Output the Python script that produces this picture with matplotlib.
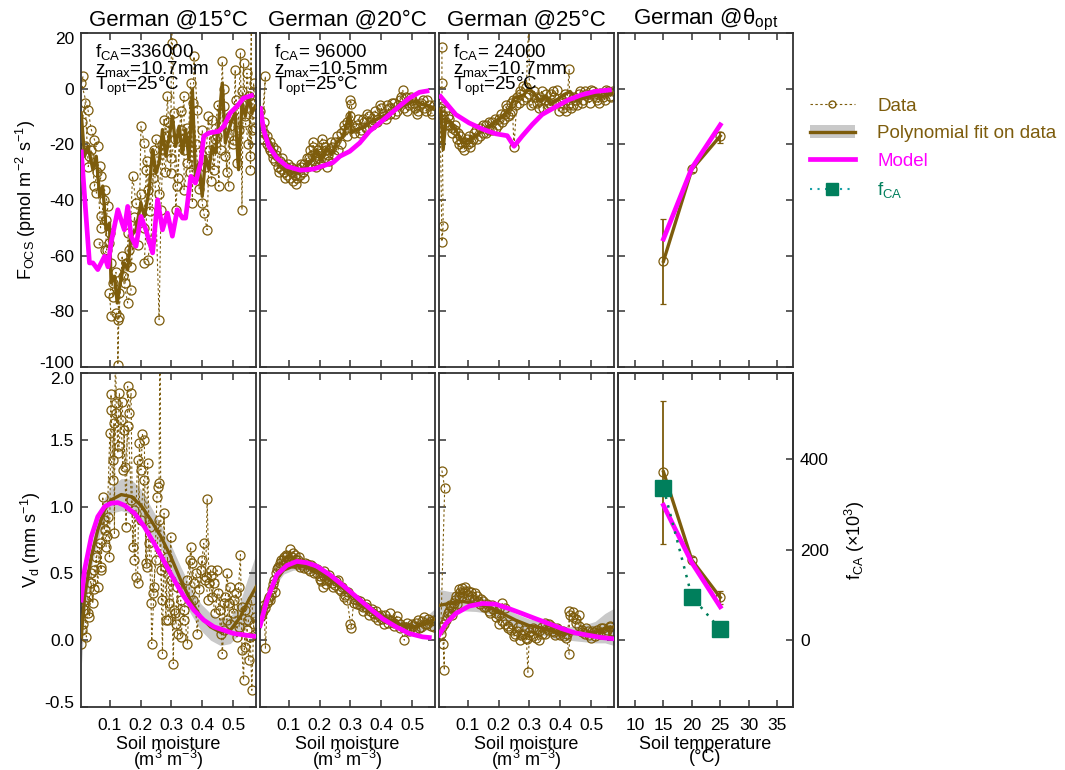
import matplotlib
matplotlib.use("Agg")
import matplotlib.pyplot as plt
import numpy as np
from matplotlib.lines import Line2D
from matplotlib.patches import Patch
from matplotlib.transforms import ScaledTranslation

plt.rcParams["font.family"] = ["Liberation Sans", "DejaVu Sans"]
plt.rcParams["mathtext.fontset"] = "custom"
plt.rcParams["mathtext.rm"] = "Liberation Sans"
plt.rcParams["mathtext.it"] = "Liberation Sans"
plt.rcParams["mathtext.bf"] = "Liberation Sans:bold"
plt.rcParams["axes.unicode_minus"] = False

BROWN = "#7d5c0c"
GREY = "#c9c9c9"
MAGENTA = "#ff00ff"
GREEN = "#007f5c"
TEAL = "#1aa0a6"
FRAME = "#333333"

TITLES = ["German @15°C", "German @20°C", "German @25°C", "German @θ$_{opt}$"]
PARAM_TEXT = [
    "f$_{CA}$=336000\nz$_{max}$=10.7mm\nT$_{opt}$=25°C",
    "f$_{CA}$= 96000\nz$_{max}$=10.5mm\nT$_{opt}$=25°C",
    "f$_{CA}$= 24000\nz$_{max}$=10.7mm\nT$_{opt}$=25°C",
]

# ---- F_OCS @15°C (two measurement runs) ----
FOCS15_SM = [0.013, 0.008, 0.029, 0.040, 0.050, 0.061, 0.018, 0.034, 0.067, 0.072, 0.056, 0.083,
             0.094, 0.088, 0.072, 0.099, 0.061, 0.083, 0.104, 0.110, 0.099, 0.104, 0.121, 0.126,
             0.126, 0.131, 0.142, 0.158, 0.169, 0.153, 0.163, 0.174, 0.185, 0.196, 0.201, 0.212,
             0.217, 0.223, 0.212, 0.223, 0.234, 0.244, 0.260, 0.266, 0.276, 0.282, 0.287, 0.298,
             0.300, 0.303, 0.309, 0.314, 0.319, 0.330, 0.341, 0.341, 0.352, 0.362, 0.368, 0.373,
             0.384, 0.400, 0.405, 0.416, 0.422, 0.432, 0.438, 0.448, 0.454, 0.465, 0.470, 0.475,
             0.486, 0.491, 0.502, 0.507, 0.513, 0.524, 0.529, 0.534, 0.540, 0.545, 0.551, 0.556,
             0.560, 0.556, 0.561, 0.567, 0.572]
FOCS15 = [4.4, 2.0, -7.5, -14.7, -18.3, -20.7, -20.7, -24.3, -27.9, -31.5, -37.5, -36.3,
          -42.3, -47.1, -45.9, -55.4, -55.4, -57.8, -62.6, -69.8, -73.4, -81.8, -80.6, -83.0,
          -99.2, -73.4, -67.4, -77.0, -72.2, -62.6, -57.8, -31.5, -41.0, -48.3, -13.5, -19.5,
          -29.1, -36.3, -62.6, -61.4, -54.2, -21.9, -83.0, -43.5, -11.1, -17.1, -2.8, -30.3,
          25.0, 16.4, -8.7, -43.5, -35.1, -14.7, -2.8, -36.3, -26.7, 2.0, -41.0, 11.6,
          -7.5, -41.0, -44.7, -50.7, -21.9, -11.1, -29.1, -17.1, -35.1, 9.8, -6.3, -24.3,
          -35.1, -13.5, -18.3, 6.8, -26.7, 12.8, -43.5, 9.2, -9.9, 5.6, -2.8, -24.3,
          30.0, -29.1, -14.7, 2.0, -8.7]
FOCS15_SM_B = [0.01, 0.02, 0.03, 0.04, 0.05, 0.06, 0.07, 0.08, 0.09, 0.10, 0.11, 0.12,
               0.13, 0.14, 0.15, 0.16, 0.17, 0.18, 0.19, 0.20, 0.21, 0.22, 0.23, 0.24,
               0.25, 0.26, 0.27, 0.28, 0.29, 0.30, 0.31, 0.32, 0.33, 0.34, 0.35, 0.36,
               0.37, 0.38, 0.39, 0.40, 0.41, 0.42, 0.43, 0.44, 0.45, 0.46, 0.47, 0.48,
               0.49, 0.50, 0.51, 0.52, 0.53, 0.54, 0.55, 0.56, 0.57]
FOCS15_B = [-12, -5, -28, -22, -35, -30, -50, -40, -58, -52, -75, -66,
            -82, -60, -70, -52, -64, -46, -56, -38, -50, -26, -44, -32,
            -18, -38, -20, -30, -12, -25, -18, -32, -8, -22, -14, -30,
            -5, -20, -36, -15, -28, -10, -33, -18, -6, -22, 0, -30,
            -10, -20, -4, -15, -1, -12, -20, -5, -14]
FOCS15_FIT_SM = [0.007, 0.018, 0.029, 0.045, 0.056, 0.067, 0.077, 0.088, 0.099, 0.104, 0.115, 0.124,
                 0.134, 0.147, 0.158, 0.169, 0.185, 0.201, 0.212, 0.228, 0.239, 0.250, 0.260, 0.271,
                 0.282, 0.293, 0.303, 0.314, 0.325, 0.336, 0.346, 0.357, 0.368, 0.378, 0.389, 0.400,
                 0.411, 0.422, 0.432, 0.443, 0.454, 0.465, 0.475, 0.486, 0.497, 0.507, 0.518, 0.529,
                 0.540, 0.551, 0.561, 0.572]
FOCS15_FIT = [-8.7, -24.3, -20.7, -29.0, -24.3, -38.7, -35.0, -50.7, -48.3, -69.8, -67.4, -77.0,
              -69.8, -62.6, -65.0, -53.0, -50.7, -41.0, -45.9, -36.3, -21.9, -30.3, -26.7, -14.7,
              -24.3, -17.1, -9.9, -20.7, -13.5, -23.1, -14.7, -25.5, -0.4, -31.5, -26.7, -38.7,
              -24.3, -29.1, -20.7, -23.1, -11.1, 2.0, -19.5, -14.7, -11.1, -8.7, -29.1, -5.1,
              -9.9, -2.8, -8.7, -6.3]
FOCS15_MODEL_SM = [0.007, 0.034, 0.045, 0.061, 0.083, 0.094, 0.104, 0.126, 0.147, 0.158, 0.169, 0.185,
                   0.201, 0.217, 0.239, 0.255, 0.271, 0.287, 0.303, 0.319, 0.336, 0.346, 0.363, 0.378,
                   0.395, 0.405, 0.422, 0.454, 0.470, 0.491, 0.513, 0.534, 0.567]
FOCS15_MODEL = [-21.9, -62.6, -62.6, -65.0, -60.2, -64.0, -55.4, -43.5, -50.7, -42.3, -53.0, -56.6,
                -45.9, -50.7, -59.0, -39.9, -50.7, -44.7, -53.0, -43.5, -46.5, -46.5, -31.5, -33.9,
                -26.7, -17.1, -15.9, -15.3, -13.5, -8.7, -6.3, -3.4, -2.2]

# ---- F_OCS @20°C ----
FOCS20_SM = [0.008, 0.012, 0.024, 0.015, 0.020, 0.030, 0.035, 0.040, 0.045, 0.050, 0.055, 0.060,
             0.065, 0.070, 0.075, 0.080, 0.085, 0.090, 0.095, 0.100, 0.105, 0.110, 0.115, 0.124,
             0.120, 0.130, 0.135, 0.140, 0.145, 0.150, 0.160, 0.165, 0.170, 0.175, 0.180, 0.185,
             0.190, 0.195, 0.200, 0.205, 0.210, 0.215, 0.220, 0.225, 0.230, 0.240, 0.250, 0.260,
             0.270, 0.280, 0.290, 0.300, 0.303, 0.310, 0.320, 0.330, 0.340, 0.350, 0.360, 0.370,
             0.380, 0.390, 0.400, 0.410, 0.420, 0.430, 0.440, 0.450, 0.460, 0.470, 0.475, 0.480,
             0.490, 0.500, 0.510, 0.520, 0.530, 0.540, 0.550, 0.560, 0.570]
FOCS20 = [-8.0, -14.0, 4.4, -18.0, -16.0, -17.0, -21.0, -19.0, -23.0, -21.0, -26.0, -24.0,
          -28.0, -26.0, -29.0, -27.0, -30.0, -28.0, -31.0, -29.0, -32.0, -30.0, -33.0, -34.1,
          -31.0, -29.0, -31.0, -28.0, -30.0, -27.0, -28.0, -25.0, -22.0, -24.0, -21.0, -26.0,
          -24.0, -22.0, -27.0, -23.0, -20.0, -25.0, -22.0, -28.0, -26.0, -21.0, -19.0, -22.0,
          -16.0, -13.0, -12.0, -4.0, -5.5, -16.0, -13.0, -16.0, -11.0, -14.0, -10.0, -13.0,
          -8.0, -11.0, -7.0, -10.0, -6.0, -9.0, -5.0, -8.0, -4.0, -0.4, -7.0, -3.0,
          -6.0, -4.0, -7.0, -8.0, -5.0, -7.0, -4.0, -8.0, -6.0]
FOCS20_SM_B = [0.018, 0.028, 0.038, 0.048, 0.058, 0.068, 0.078, 0.088, 0.098, 0.108, 0.118, 0.128,
               0.138, 0.148, 0.158, 0.168, 0.178, 0.188, 0.198, 0.208, 0.218, 0.228, 0.238, 0.248,
               0.258, 0.268, 0.278, 0.288, 0.298, 0.315, 0.325, 0.335, 0.345, 0.355, 0.365, 0.375,
               0.385, 0.395, 0.405, 0.415, 0.425, 0.435, 0.445, 0.455, 0.465, 0.485, 0.495, 0.505,
               0.515, 0.525, 0.535, 0.545, 0.555, 0.565]
FOCS20_B = [-12, -20, -22, -25, -22, -30, -25, -32, -27, -28, -29, -32,
            -27, -32, -25, -27, -19, -28, -25, -18, -21, -24, -19, -24,
            -17, -20, -15, -17, -10, -14, -11, -15, -12, -9, -12, -10,
            -12, -6, -9, -11, -7, -5, -9, -6, -3, -8, -3, -5,
            -9, -6, -4, -8, -6, -9]
FOCS20_FIT_SM = [0.007, 0.018, 0.040, 0.061, 0.083, 0.104, 0.126, 0.147, 0.169, 0.190, 0.206, 0.223,
                 0.239, 0.255, 0.276, 0.298, 0.303, 0.319, 0.341, 0.362, 0.384, 0.405, 0.427, 0.448,
                 0.470, 0.491, 0.513, 0.534, 0.556, 0.572]
FOCS20_FIT = [-12.3, -14.7, -19.5, -24.3, -27.9, -29.7, -30.3, -29.1, -26.7, -21.9, -25.5, -21.3,
              -23.7, -19.5, -17.1, -8.7, -15.9, -14.7, -14.1, -12.3, -11.1, -9.9, -8.7, -7.5,
              -6.3, -5.1, -4.5, -5.7, -6.3, -6.9]
FOCS20_MODEL_SM = [0.007, 0.018, 0.035, 0.061, 0.094, 0.137, 0.180, 0.223, 0.244, 0.266, 0.298, 0.330,
                   0.362, 0.395, 0.427, 0.459, 0.491, 0.524, 0.556]
FOCS20_MODEL = [-6.3, -14.7, -20.7, -24.9, -27.9, -29.3, -28.9, -27.3, -26.5, -24.3, -22.5, -19.5,
                -15.3, -12.3, -9.3, -6.3, -3.4, -1.3, -0.7]

# ---- F_OCS @25°C ----
FOCS25_SM = [0.016, 0.016, 0.020, 0.016, 0.010, 0.012, 0.020, 0.025, 0.030, 0.035, 0.040, 0.050,
             0.060, 0.065, 0.070, 0.075, 0.080, 0.090, 0.100, 0.105, 0.110, 0.120, 0.130, 0.140,
             0.150, 0.160, 0.170, 0.180, 0.190, 0.200, 0.210, 0.220, 0.225, 0.230, 0.240, 0.245,
             0.250, 0.260, 0.265, 0.270, 0.280, 0.290, 0.298, 0.300, 0.310, 0.320, 0.330, 0.340,
             0.350, 0.360, 0.370, 0.380, 0.390, 0.400, 0.410, 0.420, 0.429, 0.430, 0.440, 0.450,
             0.460, 0.470, 0.480, 0.490, 0.500, 0.510, 0.520, 0.530, 0.540, 0.550, 0.560, 0.570]
FOCS25 = [15.0, 2.0, -49.5, -55.0, -7.0, -5.0, -10.0, -8.0, -12.0, -10.0, -13.0, -14.0,
          -15.0, -18.0, -20.0, -17.0, -21.0, -19.0, -20.0, -17.0, -19.0, -16.0, -18.0, -14.0,
          -16.0, -13.0, -15.0, -12.0, -14.0, -11.0, -12.0, -9.0, -6.0, -10.0, -5.0, -8.0,
          -20.8, -3.0, -5.0, -1.0, -4.0, 0.5, 25.0, -2.0, -5.0, -3.0, -7.0, -1.0,
          -4.0, -6.0, -2.0, -3.0, -0.5, -5.0, -7.0, -8.0, 7.1, -3.0, -6.0, -4.0,
          -2.0, -5.0, -1.0, -3.0, -0.5, -2.0, -4.0, -1.5, -3.0, -0.5, -2.5, -1.0]
FOCS25_SM_B = [0.015, 0.028, 0.038, 0.048, 0.058, 0.068, 0.078, 0.088, 0.098, 0.108, 0.118, 0.128,
               0.138, 0.148, 0.158, 0.168, 0.178, 0.188, 0.198, 0.208, 0.218, 0.228, 0.238, 0.248,
               0.258, 0.268, 0.278, 0.288, 0.305, 0.315, 0.325, 0.335, 0.345, 0.355, 0.365, 0.375,
               0.385, 0.395, 0.405, 0.415, 0.425, 0.435, 0.445, 0.455, 0.465, 0.475, 0.485, 0.495,
               0.505, 0.515, 0.525, 0.535, 0.545, 0.555, 0.565]
FOCS25_B = [-9, -13, -11, -16, -13, -16, -19, -22, -18, -21, -18, -15,
            -17, -13, -16, -12, -15, -11, -13, -9, -11, -7, -9, -4,
            -6, -2, 1, -3, -6, -1, -5, -3, -7, -2, -5, -1,
            -5, -8, -4, -2, -6, -7, -3, -6, -1, -4, -2, -5,
            -1, -3, -5, -2, -4, -1, -3]
FOCS25_FIT_SM = [0.007, 0.013, 0.020, 0.029, 0.045, 0.061, 0.083, 0.104, 0.126, 0.147, 0.169, 0.190,
                 0.212, 0.234, 0.250, 0.266, 0.282, 0.298, 0.319, 0.336, 0.352, 0.368, 0.389, 0.411,
                 0.432, 0.454, 0.475, 0.497, 0.518, 0.540, 0.556, 0.572]
FOCS25_FIT = [-7.5, -8.7, -21.9, -11.1, -12.3, -14.7, -19.5, -18.3, -17.1, -14.7, -13.5, -11.7,
              -9.9, -7.5, -3.4, -2.8, -2.2, 0.2, -2.2, -4.6, -2.8, -5.7, -4.0, -2.2,
              -1.0, -4.0, -3.4, -2.8, -2.2, -2.8, -2.2, -1.6]
FOCS25_MODEL_SM = [0.007, 0.029, 0.061, 0.104, 0.147, 0.190, 0.228, 0.250, 0.276, 0.309, 0.341, 0.384,
                   0.427, 0.470, 0.513, 0.567]
FOCS25_MODEL = [-2.2, -5.1, -9.3, -12.3, -14.5, -16.2, -16.9, -20.7, -17.1, -12.9, -9.3, -6.6,
                -4.0, -2.2, -1.0, -0.4]

# ---- V_d @15°C ----
VD15_SM = [0.008, 0.013, 0.018, 0.024, 0.029, 0.034, 0.040, 0.045, 0.050, 0.056, 0.061, 0.067,
           0.072, 0.077, 0.083, 0.088, 0.094, 0.099, 0.104, 0.104, 0.110, 0.113, 0.115, 0.118,
           0.121, 0.126, 0.131, 0.137, 0.142, 0.147, 0.153, 0.158, 0.163, 0.169, 0.174, 0.180,
           0.185, 0.190, 0.196, 0.201, 0.206, 0.212, 0.217, 0.223, 0.228, 0.234, 0.236, 0.244,
           0.253, 0.257, 0.260, 0.263, 0.266, 0.271, 0.276, 0.282, 0.287, 0.293, 0.298, 0.306,
           0.309, 0.314, 0.319, 0.330, 0.341, 0.352, 0.362, 0.368, 0.373, 0.384, 0.395, 0.405,
           0.411, 0.416, 0.422, 0.427, 0.432, 0.438, 0.448, 0.459, 0.465, 0.470, 0.475, 0.481,
           0.486, 0.491, 0.502, 0.513, 0.518, 0.524, 0.529, 0.534, 0.540, 0.545, 0.551, 0.556,
           0.561, 0.567, 0.572]
VD15 = [-0.025, 0.125, 0.225, 0.025, 0.325, 0.175, 0.425, 0.275, 0.525, 0.625, 0.40, 0.725,
        0.525, 1.075, 0.825, 0.70, 0.925, 0.625, 1.84, 1.725, 1.35, 1.625, 0.80, 2.30,
        1.775, 1.40, 1.85, 1.65, 1.275, 1.575, 0.85, 1.90, 1.70, 1.85, 0.70, 0.975,
        0.475, 0.425, 1.475, 1.275, 1.54, 1.50, 0.575, 1.325, 0.725, 0.275, -0.025, 0.40,
        1.075, 1.15, 1.175, 2.50, 0.525, -0.10, 0.95, 0.15, 0.625, 0.275, 0.775, -0.175,
        0.225, 0.125, 0.40, 0.025, 0.225, -0.025, 0.70, 0.575, 0.425, 0.05, 0.525, 0.725,
        0.475, 1.06, 0.425, 0.525, 0.325, 0.425, 0.525, 0.225, -0.10, 0.075, 0.325, 0.50,
        0.275, 0.125, 0.30, 0.025, 0.40, 0.64, -0.075, -0.30, 0.225, 0.075, -0.15, 0.025,
        -0.375, 0.125, 0.175]
VD15_SM_B = [0.01, 0.02, 0.03, 0.04, 0.05, 0.06, 0.07, 0.08, 0.09, 0.10, 0.11, 0.12,
             0.13, 0.14, 0.15, 0.16, 0.17, 0.18, 0.19, 0.20, 0.21, 0.22, 0.23, 0.24,
             0.25, 0.26, 0.27, 0.28, 0.29, 0.30, 0.31, 0.32, 0.33, 0.34, 0.35, 0.36,
             0.37, 0.38, 0.39, 0.40, 0.41, 0.42, 0.43, 0.44, 0.45, 0.46, 0.47, 0.48,
             0.49, 0.50, 0.51, 0.52, 0.53, 0.54, 0.55, 0.56, 0.57]
VD15_B = [0.08, 0.30, 0.20, 0.50, 0.38, 0.70, 0.55, 0.90, 0.78, 1.55, 1.20, 1.70,
          1.45, 1.78, 1.30, 1.60, 1.05, 0.60, 1.35, 0.90, 1.20, 0.55, 0.85, 0.35,
          0.60, 0.90, 0.30, 0.55, 0.15, 0.45, 0.20, 0.05, 0.30, 0.15, 0.45, 0.60,
          0.30, 0.50, 0.38, 0.60, 0.45, 0.30, 0.48, 0.20, 0.35, 0.05, 0.28, 0.15,
          0.40, 0.20, 0.35, 0.10, 0.25, -0.05, 0.15, 0.30, 0.05]
VD15_FIT_SM = [0.007, 0.018, 0.040, 0.061, 0.083, 0.104, 0.137, 0.169, 0.201, 0.233, 0.266, 0.298,
               0.330, 0.362, 0.395, 0.427, 0.459, 0.491, 0.524, 0.545, 0.575]
VD15_FIT = [0.025, 0.325, 0.625, 0.825, 0.975, 1.05, 1.09, 1.075, 1.01, 0.90, 0.775, 0.625,
            0.45, 0.30, 0.175, 0.10, 0.06, 0.075, 0.175, 0.275, 0.40]
VD15_BAND = [0.24, 0.13, 0.08, 0.08, 0.09, 0.10, 0.12, 0.13, 0.12, 0.10, 0.09, 0.09,
             0.10, 0.10, 0.10, 0.10, 0.10, 0.10, 0.12, 0.17, 0.25]
VD15_MODEL_SM = [0.007, 0.018, 0.040, 0.061, 0.083, 0.104, 0.126, 0.147, 0.180, 0.212, 0.244, 0.276,
                 0.309, 0.341, 0.373, 0.405, 0.438, 0.470, 0.502, 0.534, 0.567]
VD15_MODEL = [0.30, 0.525, 0.775, 0.925, 1.00, 1.025, 1.03, 1.01, 0.95, 0.85, 0.725, 0.59,
              0.45, 0.325, 0.225, 0.15, 0.10, 0.075, 0.05, 0.04, 0.03]

# ---- V_d @20°C ----
VD20_SM = [0.010, 0.015, 0.020, 0.024, 0.030, 0.035, 0.040, 0.045, 0.050, 0.055, 0.060, 0.065,
           0.070, 0.075, 0.080, 0.085, 0.090, 0.095, 0.100, 0.105, 0.110, 0.115, 0.120, 0.125,
           0.130, 0.135, 0.140, 0.150, 0.160, 0.170, 0.180, 0.190, 0.200, 0.205, 0.210, 0.215,
           0.220, 0.230, 0.240, 0.250, 0.260, 0.270, 0.280, 0.290, 0.300, 0.303, 0.310, 0.320,
           0.330, 0.340, 0.350, 0.360, 0.370, 0.380, 0.390, 0.400, 0.410, 0.420, 0.430, 0.440,
           0.450, 0.460, 0.475, 0.480, 0.490, 0.500, 0.510, 0.520, 0.530, 0.540, 0.550, 0.560,
           0.570]
VD20 = [0.18, 0.22, 0.26, -0.06, 0.28, 0.32, 0.30, 0.38, 0.42, 0.36, 0.50, 0.55,
        0.58, 0.60, 0.56, 0.62, 0.59, 0.63, 0.60, 0.68, 0.62, 0.58, 0.64, 0.57,
        0.60, 0.55, 0.58, 0.54, 0.57, 0.52, 0.55, 0.50, 0.48, 0.44, 0.40, 0.52,
        0.45, 0.49, 0.43, 0.41, 0.45, 0.37, 0.32, 0.30, 0.12, 0.09, 0.28, 0.30,
        0.26, 0.22, 0.25, 0.19, 0.23, 0.17, 0.15, 0.19, 0.12, 0.16, 0.20, 0.13,
        0.18, 0.09, 0.00, 0.10, 0.07, 0.12, 0.08, 0.15, 0.10, 0.17, 0.12, 0.14,
        0.10]
VD20_SM_B = [0.012, 0.022, 0.032, 0.042, 0.052, 0.062, 0.072, 0.082, 0.092, 0.102, 0.112, 0.122,
             0.132, 0.142, 0.152, 0.162, 0.172, 0.182, 0.192, 0.202, 0.212, 0.222, 0.232, 0.242,
             0.252, 0.262, 0.272, 0.282, 0.292, 0.312, 0.322, 0.332, 0.342, 0.352, 0.362, 0.372,
             0.382, 0.392, 0.402, 0.412, 0.422, 0.432, 0.442, 0.452, 0.462, 0.472, 0.482, 0.492,
             0.502, 0.512, 0.522, 0.532, 0.542, 0.552, 0.562, 0.572]
VD20_B = [0.20, 0.24, 0.30, 0.34, 0.45, 0.53, 0.55, 0.60, 0.64, 0.61, 0.65, 0.60,
          0.62, 0.56, 0.58, 0.53, 0.56, 0.50, 0.53, 0.46, 0.49, 0.42, 0.46, 0.40,
          0.44, 0.38, 0.40, 0.34, 0.36, 0.31, 0.27, 0.29, 0.25, 0.27, 0.22, 0.20,
          0.22, 0.18, 0.16, 0.19, 0.13, 0.15, 0.11, 0.14, 0.12, 0.10, 0.13, 0.09,
          0.11, 0.13, 0.09, 0.14, 0.12, 0.16, 0.11, 0.15]
VD20_FIT_SM = [0.007, 0.029, 0.050, 0.083, 0.115, 0.147, 0.180, 0.212, 0.255, 0.298, 0.341, 0.384,
               0.427, 0.470, 0.513, 0.545, 0.575]
VD20_FIT = [0.15, 0.30, 0.425, 0.525, 0.555, 0.555, 0.53, 0.49, 0.425, 0.35, 0.26, 0.20,
            0.15, 0.11, 0.10, 0.125, 0.16]
VD20_BAND = [0.08, 0.05, 0.035, 0.03, 0.03, 0.03, 0.03, 0.03, 0.03, 0.03, 0.03, 0.03,
             0.03, 0.03, 0.035, 0.05, 0.08]
VD20_MODEL_SM = [0.007, 0.029, 0.061, 0.094, 0.126, 0.158, 0.190, 0.233, 0.276, 0.319, 0.362, 0.405,
                 0.448, 0.491, 0.534, 0.556]
VD20_MODEL = [0.11, 0.30, 0.49, 0.56, 0.59, 0.58, 0.555, 0.49, 0.41, 0.325, 0.24, 0.16,
              0.10, 0.05, 0.025, 0.02]

# ---- V_d @25°C ----
VD25_SM = [0.016, 0.025, 0.012, 0.015, 0.020, 0.024, 0.022, 0.030, 0.035, 0.040, 0.045, 0.050,
           0.055, 0.060, 0.065, 0.070, 0.075, 0.080, 0.085, 0.090, 0.100, 0.110, 0.120, 0.130,
           0.140, 0.150, 0.160, 0.170, 0.180, 0.190, 0.200, 0.210, 0.220, 0.200, 0.230, 0.240,
           0.250, 0.260, 0.270, 0.280, 0.290, 0.295, 0.300, 0.310, 0.320, 0.330, 0.340, 0.350,
           0.360, 0.370, 0.380, 0.390, 0.400, 0.410, 0.420, 0.429, 0.430, 0.440, 0.450, 0.460,
           0.470, 0.480, 0.490, 0.500, 0.510, 0.520, 0.530, 0.540, 0.550, 0.560, 0.570]
VD25 = [1.27, 1.14, 0.05, 0.10, -0.03, -0.225, 0.12, 0.15, 0.20, 0.22, 0.25, 0.19,
        0.28, 0.30, 0.27, 0.33, 0.36, 0.39, 0.35, 0.37, 0.34, 0.36, 0.30, 0.33,
        0.27, 0.29, 0.25, 0.22, 0.26, 0.20, 0.23, 0.28, 0.24, 0.12, 0.11, 0.08,
        0.03, 0.07, 0.00, 0.05, 0.02, -0.24, 0.06, 0.03, 0.08, 0.00, 0.05, 0.13,
        0.08, 0.11, 0.06, 0.09, 0.04, 0.07, 0.02, -0.105, 0.22, 0.17, 0.13, 0.19,
        0.08, 0.05, 0.07, 0.02, 0.06, 0.08, 0.05, 0.09, 0.06, 0.10, 0.07]
VD25_SM_B = [0.032, 0.042, 0.052, 0.062, 0.072, 0.082, 0.092, 0.102, 0.112, 0.122, 0.132, 0.142,
             0.152, 0.162, 0.172, 0.182, 0.192, 0.202, 0.212, 0.222, 0.232, 0.242, 0.252, 0.262,
             0.272, 0.282, 0.292, 0.302, 0.312, 0.322, 0.332, 0.342, 0.352, 0.362, 0.372, 0.382,
             0.392, 0.402, 0.412, 0.422, 0.432, 0.442, 0.452, 0.462, 0.472, 0.482, 0.492, 0.502,
             0.512, 0.522, 0.532, 0.542, 0.552, 0.562, 0.572]
VD25_B = [0.18, 0.26, 0.24, 0.33, 0.38, 0.33, 0.40, 0.37, 0.33, 0.35, 0.29, 0.31,
          0.25, 0.27, 0.20, 0.23, 0.17, 0.19, 0.14, 0.12, 0.09, 0.12, 0.05, 0.10,
          0.04, 0.08, 0.01, 0.04, 0.09, 0.02, 0.07, 0.10, 0.05, 0.12, 0.07, 0.04,
          0.08, 0.06, 0.03, 0.05, 0.19, 0.21, 0.16, 0.11, 0.06, 0.09, 0.04, 0.07,
          0.03, 0.06, 0.09, 0.05, 0.08, 0.11, 0.06]
VD25_FIT_SM = [0.007, 0.040, 0.083, 0.126, 0.169, 0.212, 0.255, 0.298, 0.341, 0.384, 0.427, 0.470,
               0.513, 0.545, 0.575]
VD25_FIT = [0.26, 0.275, 0.29, 0.275, 0.25, 0.20, 0.15, 0.11, 0.09, 0.06, 0.05, 0.05,
            0.06, 0.09, 0.10]
VD25_BAND = [0.12, 0.09, 0.07, 0.06, 0.05, 0.05, 0.05, 0.05, 0.05, 0.05, 0.05, 0.06,
             0.08, 0.11, 0.14]
VD25_MODEL_SM = [0.007, 0.029, 0.061, 0.104, 0.147, 0.190, 0.233, 0.276, 0.319, 0.362, 0.405, 0.448,
                 0.491, 0.534, 0.567]
VD25_MODEL = [0.04, 0.125, 0.20, 0.255, 0.275, 0.27, 0.237, 0.20, 0.162, 0.125, 0.087, 0.055,
              0.037, 0.02, 0.012]

# ---- optimum moisture vs temperature ----
TEMPS = [15, 20, 25]
FOCS_OPT = [-62, -29, -17]
FOCS_OPT_ERR_LO = [15.5, 1.0, 2.5]
FOCS_OPT_ERR_HI = [15.0, 1.0, 1.5]
FOCS_OPT_MODEL = [-54, -28.5, -13]
VD_OPT = [1.26, 0.60, 0.32]
VD_OPT_ERR_LO = [0.54, 0.02, 0.05]
VD_OPT_ERR_HI = [0.53, 0.02, 0.05]
VD_OPT_MODEL = [1.01, 0.58, 0.25]
FCA_K = [336, 96, 24]

SM_TICKS = [0.1, 0.2, 0.3, 0.4, 0.5]
T_TICKS = [10, 15, 20, 25, 30, 35]
FOCS_TICKS = [-100, -80, -60, -40, -20, 0, 20]
VD_TICKS = [-0.5, 0.0, 0.5, 1.0, 1.5, 2.0]
FCA_TICKS = [0, 200, 400]

W, H = 1065, 770
LEFTS = [81, 260, 439, 618]
PW = 175


def frac_axes(fig, left_px, top_px, bottom_px):
    return fig.add_axes([left_px / W, 1 - bottom_px / H, PW / W, (bottom_px - top_px) / H])


def style_axes(ax):
    for sp in ax.spines.values():
        sp.set_color(FRAME)
        sp.set_linewidth(1.3)
    ax.tick_params(direction="in", top=True, right=True, length=5, width=1.1,
                   color=FRAME, labelsize=12.5)
    ax.tick_params(axis="x", pad=8)
    ax.tick_params(axis="y", pad=5)


def nudge_end_labels(fig, ax, px):
    # pull the outermost y tick labels a little inside the frame
    labels = ax.get_yticklabels()
    down = ScaledTranslation(0, -px / 100, fig.dpi_scale_trans)
    up = ScaledTranslation(0, px / 100, fig.dpi_scale_trans)
    labels[0].set_transform(labels[0].get_transform() + up)
    labels[-1].set_transform(labels[-1].get_transform() + down)


def draw_data(ax, sm, vals):
    ax.plot(sm, vals, ls=(0, (2.2, 2.2)), lw=0.8, color=BROWN, marker="o", ms=6.5,
            mfc="none", mec=BROWN, mew=0.9, zorder=2)


fig = plt.figure(figsize=(W / 100, H / 100), dpi=100)

top_sets = [
    ([(FOCS15_SM, FOCS15), (FOCS15_SM_B, FOCS15_B)], FOCS15_FIT_SM, FOCS15_FIT, FOCS15_MODEL_SM, FOCS15_MODEL),
    ([(FOCS20_SM, FOCS20), (FOCS20_SM_B, FOCS20_B)], FOCS20_FIT_SM, FOCS20_FIT, FOCS20_MODEL_SM, FOCS20_MODEL),
    ([(FOCS25_SM, FOCS25), (FOCS25_SM_B, FOCS25_B)], FOCS25_FIT_SM, FOCS25_FIT, FOCS25_MODEL_SM, FOCS25_MODEL),
]
bot_sets = [
    ([(VD15_SM, VD15), (VD15_SM_B, VD15_B)], VD15_FIT_SM, VD15_FIT, VD15_BAND, VD15_MODEL_SM, VD15_MODEL),
    ([(VD20_SM, VD20), (VD20_SM_B, VD20_B)], VD20_FIT_SM, VD20_FIT, VD20_BAND, VD20_MODEL_SM, VD20_MODEL),
    ([(VD25_SM, VD25), (VD25_SM_B, VD25_B)], VD25_FIT_SM, VD25_FIT, VD25_BAND, VD25_MODEL_SM, VD25_MODEL),
]

for i in range(3):
    # top row: F_OCS
    ax = frac_axes(fig, LEFTS[i], 33, 367)
    runs, fsm, fit, msm, model = top_sets[i]
    for sm, vals in runs:
        draw_data(ax, sm, vals)
    ax.plot(fsm, fit, color=BROWN, lw=2.4, zorder=3)
    ax.plot(msm, model, color=MAGENTA, lw=3.4, zorder=4, solid_capstyle="butt")
    ax.set_xlim(0.0065, 0.5745)
    ax.set_ylim(-100, 20)
    ax.set_xticks(SM_TICKS)
    ax.set_yticks(FOCS_TICKS)
    ax.set_xticklabels([])
    style_axes(ax)
    if i > 0:
        ax.set_yticklabels([])
    else:
        ax.set_ylabel("F$_{OCS}$ (pmol m$^{-2}$ s$^{-1}$)", fontsize=13, labelpad=1)
        nudge_end_labels(fig, ax, 5)
    ax.set_title(TITLES[i], fontsize=16, pad=5)
    ax.text(0.08, 0.972, PARAM_TEXT[i], transform=ax.transAxes, ha="left", va="top",
            fontsize=13.5, linespacing=0.76, zorder=5)

    # bottom row: V_d
    ax = frac_axes(fig, LEFTS[i], 373, 707)
    runs, fsm, fit, band, msm, model = bot_sets[i]
    fit_a = np.array(fit)
    band_a = np.array(band)
    ax.fill_between(fsm, fit_a - band_a, fit_a + band_a, color=GREY, lw=0, zorder=1)
    for sm, vals in runs:
        draw_data(ax, sm, vals)
    ax.plot(fsm, fit, color=BROWN, lw=2.4, zorder=3)
    ax.plot(msm, model, color=MAGENTA, lw=3.4, zorder=4)
    ax.set_xlim(0.0065, 0.5745)
    ax.set_ylim(-0.5, 2.0)
    ax.set_xticks(SM_TICKS)
    ax.set_xticklabels([f"{t:.1f}" for t in SM_TICKS])
    ax.set_yticks(VD_TICKS)
    style_axes(ax)
    if i > 0:
        ax.set_yticklabels([])
    else:
        ax.set_yticklabels([f"{t:.1f}" for t in VD_TICKS])
        ax.set_ylabel("V$_{d}$ (mm s$^{-1}$)", fontsize=13, labelpad=1)
        nudge_end_labels(fig, ax, 5)
    ax.set_xlabel("Soil moisture\n(m$^{3}$ m$^{-3}$)", fontsize=13, linespacing=0.72, labelpad=2)

# top row, temperature panel
ax = frac_axes(fig, LEFTS[3], 33, 367)
ax.errorbar(TEMPS, FOCS_OPT, yerr=[FOCS_OPT_ERR_LO, FOCS_OPT_ERR_HI], color=BROWN, lw=2.4,
            marker="o", ms=6.5, mfc="none", mec=BROWN, mew=0.9, ecolor=BROWN, elinewidth=1.3,
            capsize=2, capthick=1.3, zorder=3)
ax.plot(TEMPS, FOCS_OPT_MODEL, color=MAGENTA, lw=3.4, zorder=4)
ax.set_xlim(7, 37.8)
ax.set_ylim(-100, 20)
ax.set_xticks(T_TICKS)
ax.set_yticks(FOCS_TICKS)
ax.set_xticklabels([])
ax.set_yticklabels([])
style_axes(ax)
ax.set_title(TITLES[3], fontsize=16, pad=5)

# bottom row, temperature panel
ax = frac_axes(fig, LEFTS[3], 373, 707)
ax.errorbar(TEMPS, VD_OPT, yerr=[VD_OPT_ERR_LO, VD_OPT_ERR_HI], color=BROWN, lw=2.4,
            marker="o", ms=6.5, mfc="none", mec=BROWN, mew=0.9, ecolor=BROWN, elinewidth=1.3,
            capsize=2, capthick=1.3, zorder=3)
ax.plot(TEMPS, VD_OPT_MODEL, color=MAGENTA, lw=3.4, zorder=4)
ax.set_xlim(7, 37.8)
ax.set_ylim(-0.5, 2.0)
ax.set_xticks(T_TICKS)
ax.set_yticks(VD_TICKS)
ax.set_yticklabels([])
style_axes(ax)
ax.set_xlabel("Soil temperature\n(°C)", fontsize=13, linespacing=0.72, labelpad=2)

axt = ax.twinx()
axt.plot(TEMPS, FCA_K, color=GREEN, ls=(0, (1, 2.6)), lw=1.8, marker="s", ms=11,
         mfc=GREEN, mec=GREEN, zorder=5)
axt.set_ylim(-147, 589)
axt.set_yticks(FCA_TICKS)
axt.tick_params(direction="in", length=5, width=1.1, color=FRAME, labelsize=12.5, pad=5)
for sp in axt.spines.values():
    sp.set_color(FRAME)
    sp.set_linewidth(1.3)
axt.set_ylabel("f$_{CA}$ (×10$^{3}$)", fontsize=13, labelpad=10)

# legend
handles = [
    Line2D([], [], color=BROWN, ls=(0, (2.2, 2.2)), lw=0.8, marker="o", ms=5, mfc="none", mec=BROWN),
    (Patch(facecolor=GREY, edgecolor="none"), Line2D([], [], color=BROWN, lw=2.4)),
    Line2D([], [], color=MAGENTA, lw=3.4),
    Line2D([], [], color=TEAL, ls=(0, (1, 2.6)), lw=1.5, marker="s", ms=9, mfc=GREEN, mec=GREEN),
]
labels = ["Data", "Polynomial fit on data", "Model", "f$_{CA}$"]
leg = fig.legend(handles, labels, loc="upper left", bbox_to_anchor=(793 / W, 1 - 81 / H),
                 frameon=False, fontsize=13.5, handlelength=2.4, handletextpad=1.2,
                 labelspacing=0.55, numpoints=1,
                 labelcolor=[BROWN, BROWN, MAGENTA, GREEN])

fig.savefig("out.png", dpi=100)
